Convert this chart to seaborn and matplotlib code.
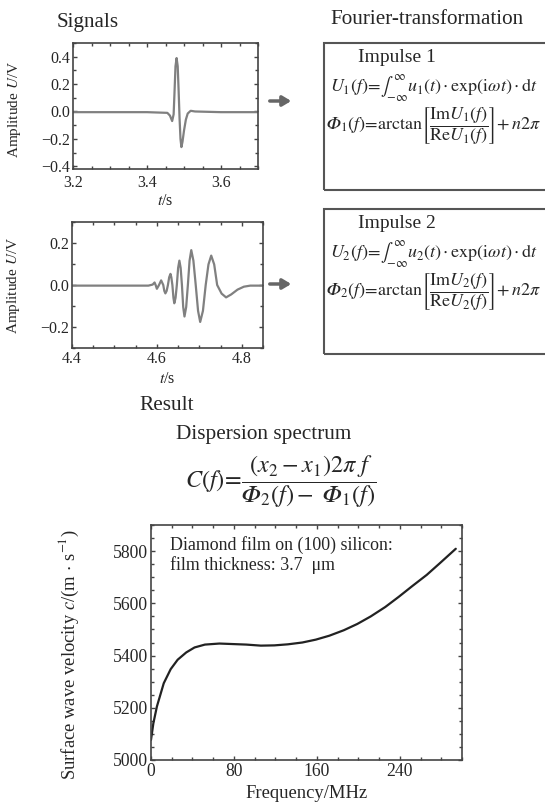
import pandas as pd
import seaborn as sns
import matplotlib.pyplot as plt
from matplotlib.patches import Rectangle, FancyArrowPatch
from matplotlib.ticker import MultipleLocator

# impulse 1
t1 = [3.20, 3.30, 3.40, 3.455, 3.462, 3.468, 3.472, 3.4745, 3.477, 3.480, 3.483,
      3.4855, 3.488, 3.4905, 3.493, 3.496, 3.500, 3.505, 3.510, 3.518, 3.530,
      3.600, 3.700]
u1 = [-0.005, -0.005, -0.005, -0.010, -0.030, -0.070, -0.020, 0.150, 0.330, 0.390,
      0.330, 0.150, -0.050, -0.200, -0.260, -0.220, -0.140, -0.060, -0.015, 0.005,
      0.000, -0.005, -0.005]

# impulse 2
t2 = [4.400, 4.500, 4.580, 4.590, 4.5945, 4.597, 4.600, 4.605, 4.610, 4.615,
      4.6175, 4.620, 4.623, 4.626, 4.629, 4.632, 4.634, 4.6365, 4.639, 4.641,
      4.644, 4.647, 4.650, 4.653, 4.656, 4.659, 4.662, 4.665, 4.669, 4.673,
      4.677, 4.681, 4.686, 4.6915, 4.697, 4.702, 4.7085, 4.715, 4.7215, 4.728,
      4.735, 4.742, 4.7525, 4.763, 4.775, 4.790, 4.805, 4.820, 4.850]
u2 = [-0.003, -0.003, -0.003, 0.002, 0.012, 0.000, -0.018, 0.000, 0.022, 0.000,
      -0.028, -0.040, -0.028, 0.000, 0.037, 0.053, 0.037, 0.000, -0.061, -0.087,
      -0.061, 0.000, 0.081, 0.116, 0.081, 0.000, -0.105, -0.150, -0.105, 0.000,
      0.116, 0.166, 0.116, 0.000, -0.123, -0.176, -0.123, 0.000, 0.098, 0.140,
      0.098, 0.000, -0.041, -0.059, -0.045, -0.022, -0.008, -0.003, -0.003]

# dispersion spectrum
freq = [0, 2.3, 5.7, 12.3, 19, 25.7, 34, 42, 52, 66, 79, 92, 106, 119, 132,
        146, 159, 172, 186, 199, 212, 226, 239, 252, 266, 279, 294]
vel = [5077, 5141, 5205, 5294, 5348, 5384, 5412, 5431, 5442, 5446, 5444, 5442,
       5438, 5439, 5443, 5450, 5461, 5476, 5497, 5521, 5550, 5586, 5625, 5666,
       5709, 5755, 5809]

sig1 = pd.DataFrame({"t": t1, "u": u1})
sig2 = pd.DataFrame({"t": t2, "u": u2})
disp = pd.DataFrame({"f": freq, "c": vel})

sns.set_theme(style="ticks")
plt.rcParams["font.family"] = ["Liberation Serif", "DejaVu Serif"]
plt.rcParams["mathtext.fontset"] = "stix"

W, H = 545, 807
fig = plt.figure(figsize=(W / 100, H / 100), dpi=100)

PHI = "\U0001D6F7"  # italic capital phi


def px_box(l, t, r, b):
    return [l / W, 1 - b / H, (r - l) / W, (b - t) / H]


def style(ax, size, xpad=2):
    for s in ax.spines.values():
        s.set_color("#444444")
        s.set_linewidth(1.2)
    ax.tick_params(which="both", direction="in", top=True, right=True,
                   color="#444444", labelsize=size, pad=2)
    ax.tick_params(axis="x", pad=xpad)
    ax.tick_params(which="major", length=3, width=1)
    ax.tick_params(which="minor", length=2.5, width=1)


ax1 = fig.add_axes(px_box(73, 43, 258, 169))
sns.lineplot(data=sig1, x="t", y="u", ax=ax1, color="#808080", lw=1.6)
ax1.set_xlim(3.2, 3.7)
ax1.set_ylim(-0.42, 0.5)
ax1.xaxis.set_major_locator(MultipleLocator(0.2))
ax1.xaxis.set_minor_locator(MultipleLocator(0.05))
ax1.yaxis.set_major_locator(MultipleLocator(0.2))
ax1.yaxis.set_minor_locator(MultipleLocator(0.1))
ax1.set_xlabel(r"$t$/s", fontsize=11.5, labelpad=2)
ax1.set_ylabel(r"Amplitude $U$/V", fontsize=11)
ax1.yaxis.set_label_coords(-0.27, 0.47)
style(ax1, 11.5, xpad=4)

ax2 = fig.add_axes(px_box(72, 222, 263, 348))
sns.lineplot(data=sig2, x="t", y="u", ax=ax2, color="#808080", lw=1.6)
ax2.set_xlim(4.4, 4.85)
ax2.set_ylim(-0.3, 0.3)
ax2.xaxis.set_major_locator(MultipleLocator(0.2))
ax2.xaxis.set_minor_locator(MultipleLocator(0.05))
ax2.yaxis.set_major_locator(MultipleLocator(0.2))
ax2.yaxis.set_minor_locator(MultipleLocator(0.1))
ax2.set_xlabel(r"$t$/s", fontsize=11.5, labelpad=3)
ax2.set_ylabel(r"Amplitude $U$/V", fontsize=11)
ax2.yaxis.set_label_coords(-0.26, 0.5)
style(ax2, 11.5)

ax3 = fig.add_axes(px_box(151, 525, 462, 760))
sns.lineplot(data=disp, x="f", y="c", ax=ax3, color="#222222", lw=1.6)
ax3.set_xlim(0, 300)
ax3.set_ylim(5000, 5900)
ax3.xaxis.set_major_locator(MultipleLocator(80))
ax3.xaxis.set_minor_locator(MultipleLocator(20))
ax3.yaxis.set_major_locator(MultipleLocator(200))
ax3.yaxis.set_minor_locator(MultipleLocator(50))
ax3.set_xlabel("Frequency/MHz", fontsize=13.4, labelpad=4)
ax3.set_ylabel(r"Surface wave velocity $c$/(m$\,\cdot\,$s$^{-1}$)", fontsize=13.4)
ax3.yaxis.set_label_coords(-0.225, 0.45)
ax3.text(18, 5858, "Diamond film on (100) silicon:\nfilm thickness: 3.7  \u03bcm",
         fontsize=12.9, va="top", linespacing=1.15)
style(ax3, 12.7)

# headings
fig.text(57 / W, 1 - 22 / H, "Signals", fontsize=15.2, va="center")
fig.text(330 / W, 1 - 20 / H, "Fourier-transformation", fontsize=15.2, va="center")
fig.text(139 / W, 1 - 406 / H, "Result", fontsize=15.3, va="center")
fig.text(176 / W, 1 - 435 / H, "Dispersion spectrum", fontsize=15.3, va="center")
fig.text(185 / W, 1 - 482 / H,
         rf"$C(f)\!=\!\dfrac{{(x_2-x_1)2\pi\ f}}{{\mathrm{{{PHI}}}_2(f)-\ \mathrm{{{PHI}}}_1(f)}}$",
         fontsize=17.5, va="center")

# boxes with the transform formulas
for k, (top, bot) in enumerate([(43, 190), (209, 354)], start=1):
    fig.add_artist(Rectangle((324 / W, 1 - bot / H), 400 / W, (bot - top) / H,
                             transform=fig.transFigure, fill=False,
                             ec="#555555", lw=1.5, clip_on=False))
    fig.text(358 / W, 1 - (top + 14) / H, f"Impulse {k}", fontsize=14, va="center")
    fig.text(330 / W, 1 - (top + 45) / H,
             rf"$U_{k}(f)\!=\!\int_{{-\infty}}^{{\infty}} u_{k}(t)\cdot\exp(\mathrm{{i}}\omega t)\cdot\mathrm{{d}}t$",
             fontsize=13, va="center")
    fig.text(326 / W, 1 - (top + 83) / H,
             rf"$\mathrm{{{PHI}}}_{k}(f)\!=\!\mathrm{{arctan}}\left[\dfrac{{\mathrm{{Im}}U_{k}(f)}}{{\mathrm{{Re}}U_{k}(f)}}\right]\!+n2\pi$",
             fontsize=13, va="center")

# arrows from signals to transforms
for y in (101, 284):
    fig.add_artist(FancyArrowPatch((267 / W, 1 - y / H), (294 / W, 1 - y / H),
                                   transform=fig.transFigure,
                                   arrowstyle="-|>,head_length=0.5,head_width=0.3",
                                   mutation_scale=10, color="#666666", lw=2.5))

fig.savefig("out.png", dpi=100)
